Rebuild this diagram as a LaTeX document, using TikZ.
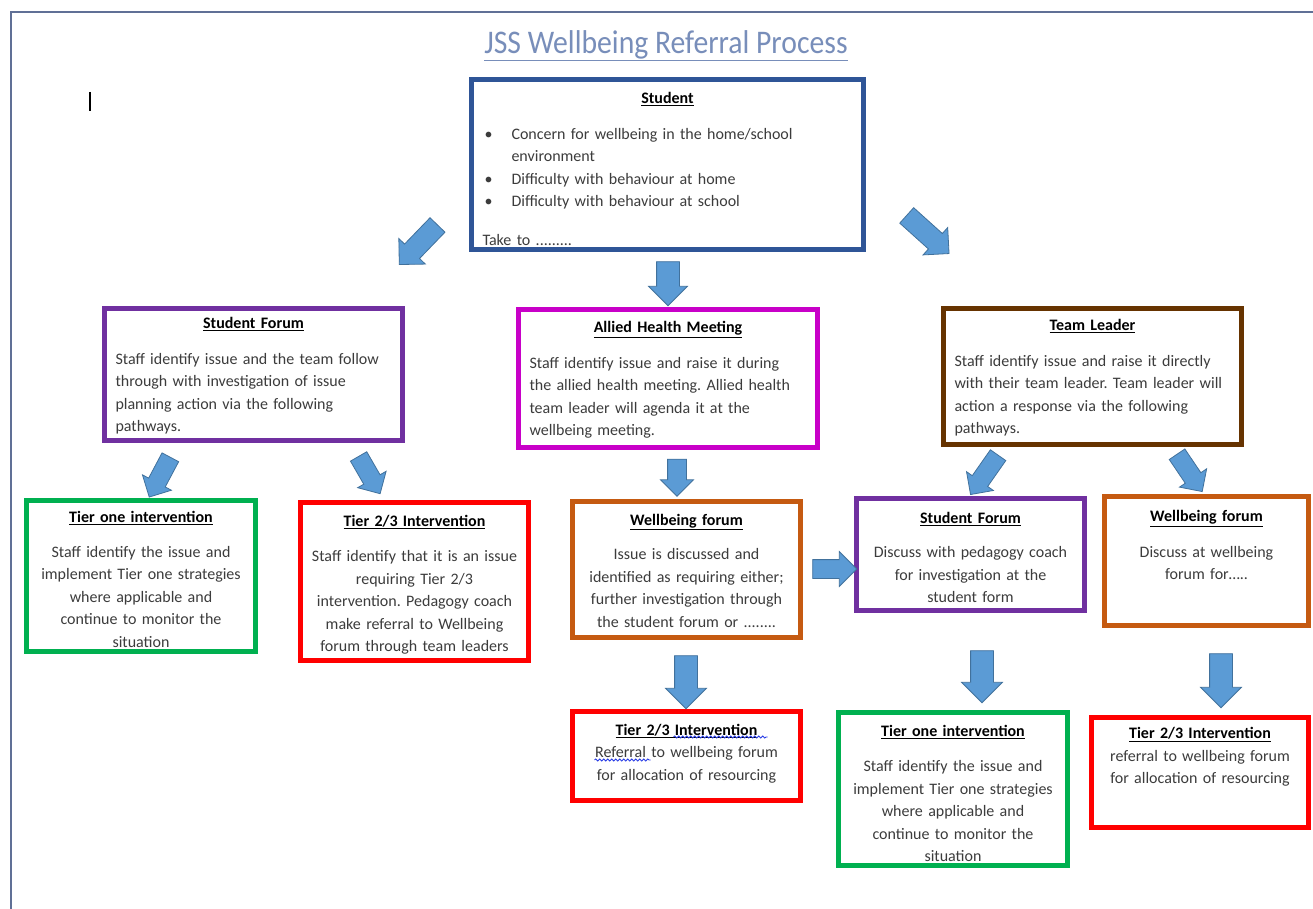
\documentclass[tikz,border=0pt]{standalone}
\usepackage{fontspec}
\setmainfont{Carlito}
\usetikzlibrary{shapes.arrows,decorations.pathmorphing}
\definecolor{framec}{RGB}{96,112,150}
\definecolor{titlec}{RGB}{120,142,186}
\definecolor{stublue}{RGB}{47,85,151}
\definecolor{purp}{RGB}{112,48,160}
\definecolor{magen}{RGB}{200,0,200}
\definecolor{brownc}{RGB}{102,51,0}
\definecolor{greenc}{RGB}{0,176,80}
\definecolor{redc}{RGB}{255,0,0}
\definecolor{orangec}{RGB}{197,90,17}
\definecolor{arrfill}{RGB}{91,155,213}
\definecolor{arrdraw}{RGB}{65,113,156}
\definecolor{textc}{RGB}{60,60,60}
\definecolor{spellc}{RGB}{40,60,230}
\newcommand{\hd}[1]{{\color{black}\rule{0pt}{14pt}\underline{\textbf{#1}}}}
\newcommand{\bul}{\hspace*{2pt}\makebox[27pt][l]{\textbullet}}
\frenchspacing
\begin{document}
\begin{tikzpicture}[x=1pt,y=-1pt,
  box/.style={draw, line width=4.5pt, inner ysep=0pt, inner xsep=11pt, text=textc,
    font=\fontsize{16}{22.5}\selectfont},
  lbox/.style={box, align=left},
  cbox/.style={box, align=center, inner xsep=4pt},
  barrow/.style 2 args={single arrow, draw=arrdraw, fill=arrfill, line width=0.8pt,
    inner xsep=0pt, inner ysep=#1, single arrow head extend=#2},
  spell/.style={spellc, line width=0.8pt, decorate, decoration={snake, amplitude=1.1pt, segment length=4pt}}
]
\useasboundingbox (0,0) rectangle (1313,909);
\fill[white] (0,0) rectangle (1313,909);
\draw[framec, line width=2.5pt] (11,915) -- (11,12) -- (1320,12);
\node[text=titlec, font=\fontsize{33}{36}\selectfont] (title) at (666,46) {\scalebox{0.9}[1]{\underline{JSS Wellbeing Referral Process}}};
\draw[line width=1.5pt] (90,92) -- (90,111);

% boxes
\node[lbox, draw=stublue, text width=370pt, minimum height=170pt] (stu) at (667.5,164.5) {%
\makebox[\linewidth]{\rule{0pt}{20pt}\hd{Student}}\\[13pt]
\bul Concern for wellbeing in the home/school\\
\hspace*{29pt}environment\\
\bul Difficulty with behaviour at home\\
\bul Difficulty with behaviour at school\\[16pt]
Take to .........};

\node[lbox, draw=purp, text width=276pt, minimum height=132pt] (sfl) at (253.5,374.5) {%
\makebox[\linewidth]{\hd{Student Forum}}\\[13pt]
Staff identify issue and the team follow\\
through with investigation of issue\\
planning action via the following\\
pathways.};

\node[lbox, draw=magen, text width=277pt, minimum height=138pt] (ahm) at (668,378.5) {%
\makebox[\linewidth]{\hd{Allied Health Meeting}}\\[13pt]
Staff identify issue and raise it during\\
the allied health meeting. Allied health\\
team leader will agenda it at the\\
wellbeing meeting.};

\node[lbox, draw=brownc, text width=276pt, minimum height=136pt] (tl) at (1092.5,376.5) {%
\makebox[\linewidth]{\hd{Team Leader}}\\[13pt]
Staff identify issue and raise it directly\\
with their team leader. Team leader will\\
action a response via the following\\
pathways.};

\node[cbox, draw=greenc, text width=221pt, minimum height=151pt] (t1l) at (141,576) {%
\rule{0pt}{18pt}\hd{Tier one intervention}\\[12pt]
Staff identify the issue and\\
implement Tier one strategies\\
where applicable and\\
continue to monitor the\\
situation};

\node[cbox, draw=redc, text width=220pt, minimum height=158pt] (t23l) at (414.5,581.5) {%
\rule{0pt}{18pt}\hd{Tier 2/3 Intervention}\\[13pt]
Staff identify that it is an issue\\
requiring Tier 2/3\\
intervention. Pedagogy coach\\
make referral to Wellbeing\\
forum through team leaders};

\node[cbox, draw=orangec, text width=220pt, minimum height=136pt] (wfm) at (686.5,569.5) {%
\hd{Wellbeing forum}\\[12pt]
Issue is discussed and\\
identified as requiring either;\\
further investigation through\\
the student forum or ........};

\node[cbox, draw=purp, text width=220pt, minimum height=112pt] (sfr) at (970.5,554.5) {%
\rule{0pt}{17pt}\hd{Student Forum}\\[12pt]
Discuss with pedagogy coach\\
for investigation at the\\
student form};

\node[cbox, draw=orangec, text width=196pt, minimum height=129pt] (wfr) at (1206.5,561) {%
\hd{Wellbeing forum}\\[13pt]
Discuss at wellbeing\\
forum for…..\\[12pt]\mbox{}};

\node[cbox, draw=redc, text width=220pt, minimum height=89pt] (t23m) at (686.5,756) {%
\hd{Tier 2/3 Intervention}\\
Referral to wellbeing forum\\
for allocation of resourcing\\[-12pt]\mbox{}};
\draw[spell] ([shift={(-13,-19)}]t23m.center) -- ++(94,0);
\draw[spell] ([shift={(-92,4)}]t23m.center) -- ++(56,0);

\node[cbox, draw=greenc, text width=221pt, minimum height=153pt] (t1b) at (953,789) {%
\rule{0pt}{20pt}\hd{Tier one intervention}\\[13pt]
Staff identify the issue and\\
implement Tier one strategies\\
where applicable and\\
continue to monitor the\\
situation};

\node[cbox, draw=redc, text width=209pt, minimum height=110pt] (t23r) at (1200,772.5) {%
\hd{Tier 2/3 Intervention}\\
referral to wellbeing forum\\
for allocation of resourcing\\[14pt]\mbox{}};

% block arrows
\node[barrow={10pt}{8pt}, minimum height=55pt, rotate=226] (a1) at (422,241) {};
\node[barrow={10pt}{8pt}, minimum height=57pt, rotate=-42] (a2) at (924,231) {};
\node[barrow={11pt}{8pt}, minimum height=44pt, rotate=-90] (a3) at (668,278) {};
\node[barrow={9pt}{7pt}, minimum height=45pt, rotate=242] (a4) at (162,473) {};
\node[barrow={9pt}{7pt}, minimum height=43pt, rotate=-60] (a5) at (367,471) {};
\node[barrow={9pt}{7pt}, minimum height=37pt, rotate=-90] (a6) at (677,473) {};
\node[barrow={9pt}{8pt}, minimum height=44pt, rotate=0] (a7) at (830,569) {};
\node[barrow={11pt}{9pt}, minimum height=53pt, rotate=-90] (a8) at (686,676.5) {};
\node[barrow={9pt}{7pt}, minimum height=48pt, rotate=235] (a9) at (987,471) {};
\node[barrow={9pt}{7pt}, minimum height=45pt, rotate=-56] (a10) at (1187,469) {};
\node[barrow={11pt}{9pt}, minimum height=52pt, rotate=-90] (a11) at (982,671) {};
\node[barrow={11pt}{9pt}, minimum height=54pt, rotate=-90] (a12) at (1221,675) {};
\end{tikzpicture}
\end{document}
